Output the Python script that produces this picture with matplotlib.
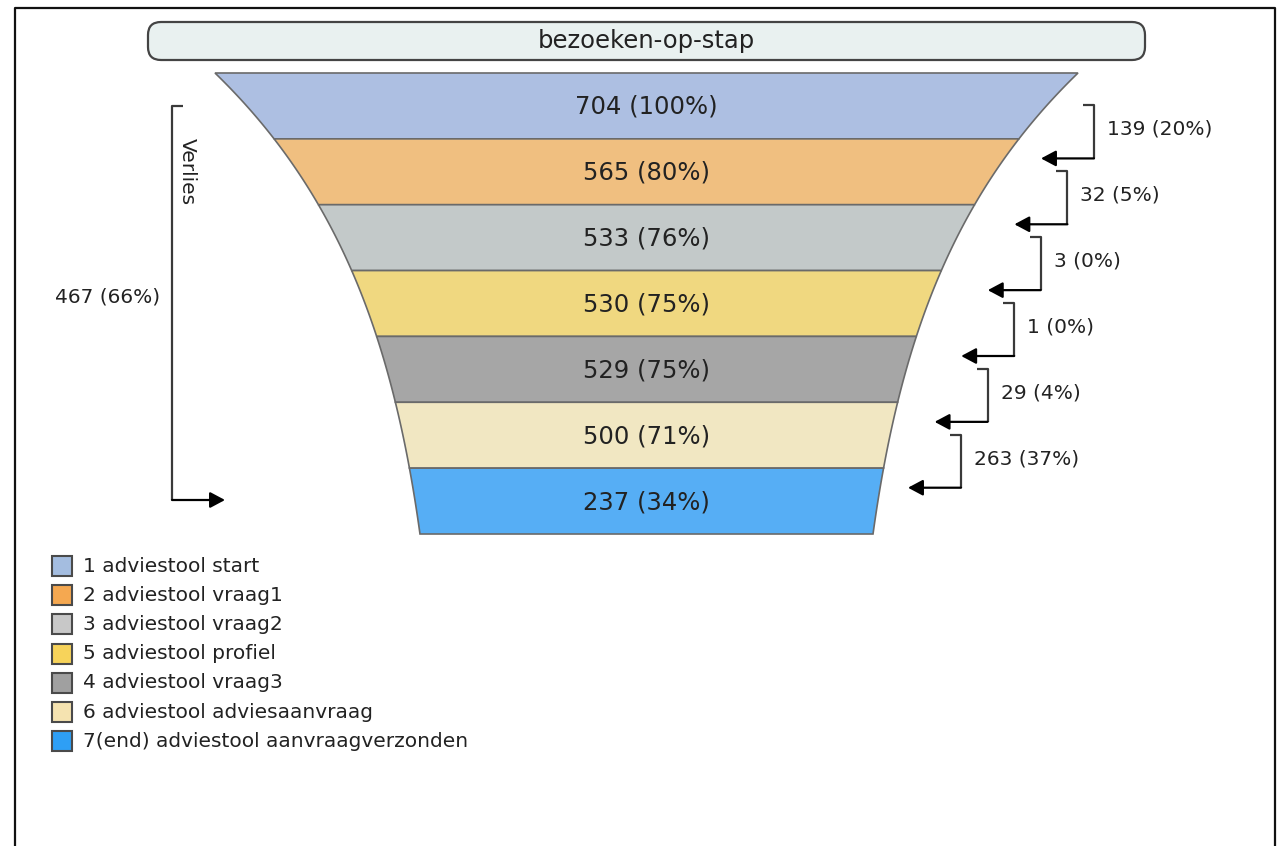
import numpy as np
import matplotlib
matplotlib.use('Agg')
import matplotlib.pyplot as plt
from matplotlib.patches import FancyBboxPatch, Rectangle

# funnel data
title = 'bezoeken-op-stap'
steps = ['1 adviestool start', '2 adviestool vraag1', '3 adviestool vraag2',
         '5 adviestool profiel', '4 adviestool vraag3',
         '6 adviestool adviesaanvraag', '7(end) adviestool aanvraagverzonden']
visits = [704, 565, 533, 530, 529, 500, 237]
loss_label = 'Verlies'

band_colors = ['#adbfe2', '#f0bf80', '#c3c9c9', '#f0d880', '#a6a6a6', '#f1e7c2', '#56aef5']
legend_colors = ['#a4bde0', '#f5a850', '#c8c8c8', '#f7d35a', '#a0a0a0', '#f5e3b0', '#2e9ff5']

visits = np.array(visits)
pct = visits / visits[0] * 100
drops = visits[:-1] - visits[1:]
drop_pct = drops / visits[0] * 100
total_loss = visits[0] - visits[-1]

fig = plt.figure(figsize=(12.78, 8.46), dpi=100)
ax = fig.add_axes([0, 0, 1, 1])
ax.set_xlim(0, 1278)
ax.set_ylim(846, 0)
ax.axis('off')

# outer frame (open at the bottom)
ax.plot([15, 15, 1275, 1275], [846, 8.5, 8.5, 846], color='#111', lw=1.6)

# header box
ax.add_patch(FancyBboxPatch((148, 22), 997, 38, boxstyle='round,pad=0,rounding_size=13',
                            facecolor='#e9f1f0', edgecolor='#444', lw=1.6))
ax.text(646.5, 41, title, ha='center', va='center', fontsize=17.5, color='#222')

# funnel geometry
cx, y0, h = 646.5, 73, 461
n = len(visits)
band_h = h / n

def half_width(t):
    return 194.8 + 236.7 * np.exp(-2.01 * t)

for i in range(n):
    t = np.linspace(i / n, (i + 1) / n, 30)
    hw = half_width(t)
    ys = y0 + h * t
    xs = np.concatenate([cx - hw, (cx + hw)[::-1]])
    yy = np.concatenate([ys, ys[::-1]])
    ax.fill(xs, yy, facecolor=band_colors[i], edgecolor='#6a6a6a', lw=1.2)
    ax.text(cx, y0 + band_h * (i + 0.5) + 1, f'{visits[i]} ({pct[i]:.0f}%)',
            ha='center', va='center', fontsize=17.5, color='#222')

arrow_kw = dict(arrowstyle='-|>,head_length=0.6,head_width=0.32',
                mutation_scale=15, color='black', lw=1.6, shrinkA=0, shrinkB=0)

# step losses on the right
line_kw = dict(color='#3a3a3a', lw=1.6, solid_capstyle='butt')
for i, (d, dp) in enumerate(zip(drops, drop_pct)):
    yt = y0 + band_h * (i + 0.5) - 0.5
    yb = yt + 53
    xv = 1094 - 26.6 * i
    tip = xv - 53
    ax.plot([xv - 11, xv, xv], [yt, yt, yb], **line_kw)
    ax.annotate('', xy=(tip, yb), xytext=(xv, yb), arrowprops=arrow_kw)
    ax.text(xv + 13, yt + 24, f'{d} ({dp:.0f}%)', ha='left', va='center',
            fontsize=14.5, color='#222')

# total loss on the left
ax.plot([183, 172, 172], [106, 106, 500], **line_kw)
ax.annotate('', xy=(225, 500), xytext=(172, 500), arrowprops=arrow_kw)
ax.text(160, 297, f'{total_loss} ({total_loss / visits[0] * 100:.0f}%)',
        ha='right', va='center', fontsize=14.5, color='#222')
ax.text(187, 172, loss_label, rotation=270, ha='center', va='center',
        fontsize=14.5, color='#222')

# legend
for i, (lab, c) in enumerate(zip(steps, legend_colors)):
    yc = 566 + 29.2 * i
    ax.add_patch(Rectangle((52, yc - 10), 20, 20, facecolor=c, edgecolor='#4a4a4a', lw=1.5))
    ax.text(83, yc, lab, ha='left', va='center', fontsize=14.5, color='#222')

fig.savefig('out.png', dpi=100)
